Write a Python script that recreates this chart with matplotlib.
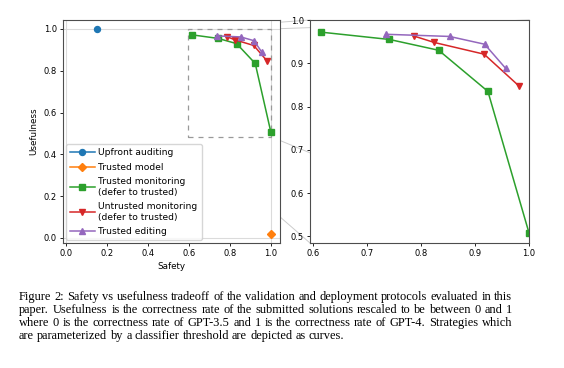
import matplotlib
matplotlib.use("Agg")
import matplotlib.pyplot as plt
from matplotlib.patches import Rectangle, ConnectionPatch
from matplotlib.font_manager import FontProperties, findfont, get_font

# data
upfront_safety = [0.15]
upfront_use = [1.0]

trusted_model_safety = [1.0]
trusted_model_use = [0.02]

tm_safety = [0.615, 0.742, 0.833, 0.924, 1.0]
tm_use = [0.972, 0.955, 0.930, 0.835, 0.508]

um_safety = [0.787, 0.825, 0.917, 0.981]
um_use = [0.963, 0.948, 0.921, 0.848]

te_safety = [0.735, 0.853, 0.918, 0.957]
te_use = [0.967, 0.962, 0.944, 0.888]

labels = ["Upfront auditing", "Trusted model",
          "Trusted monitoring\n(defer to trusted)",
          "Untrusted monitoring\n(defer to trusted)",
          "Trusted editing"]

caption = [
    "Figure 2: Safety vs usefulness tradeoff of the validation and deployment protocols evaluated in this",
    "paper. Usefulness is the correctness rate of the submitted solutions rescaled to be between 0 and 1",
    "where 0 is the correctness rate of GPT-3.5 and 1 is the correctness rate of GPT-4. Strategies which",
    "are parameterized by a classifier threshold are depicted as curves.",
]

W, H = 564, 368
fig = plt.figure(figsize=(W / 100, H / 100), dpi=100)

def px_axes(x0, y0, x1, y1):
    return fig.add_axes([x0 / W, 1 - y1 / H, (x1 - x0) / W, (y1 - y0) / H])

ax = px_axes(63, 20, 280, 243)
axr = px_axes(310, 20, 529, 243)

tick_fs = 6
mk = dict(markersize=4.3, lw=1.1)

def draw(a):
    a.plot(upfront_safety, upfront_use, 'o-', color='#1f77b4', label=labels[0], **mk)
    a.plot(trusted_model_safety, trusted_model_use, 'D-', color='#ff7f0e', label=labels[1],
           markersize=3.7, lw=1.1)
    a.plot(tm_safety, tm_use, 's-', color='#2ca02c', label=labels[2], **mk)
    a.plot(um_safety, um_use, 'v-', color='#d62728', label=labels[3], **mk)
    a.plot(te_safety, te_use, '^-', color='#9467bd', label=labels[4], **mk)

for v in (0, 1):
    ax.axhline(v, color='0.86', lw=0.8, zorder=0)
    ax.axvline(v, color='0.86', lw=0.8, zorder=0)

draw(ax)
draw(axr)

ax.set_xlim(-0.015, 1.045)
ax.set_ylim(-0.024, 1.043)
ax.set_xticks([0, 0.2, 0.4, 0.6, 0.8, 1.0])
ax.set_yticks([0, 0.2, 0.4, 0.6, 0.8, 1.0])
ax.set_xlabel("Safety", fontsize=6.3, labelpad=3)
ax.set_ylabel("Usefulness", fontsize=6.3, labelpad=4)

axr.set_xlim(0.595, 1.0)
axr.set_ylim(0.4846, 1.0)
axr.set_xticks([0.6, 0.7, 0.8, 0.9, 1.0])
axr.set_yticks([0.5, 0.6, 0.7, 0.8, 0.9, 1.0])

for a in (ax, axr):
    a.tick_params(labelsize=tick_fs, length=2.5, width=0.6, pad=2)
    for s in a.spines.values():
        s.set_color('0.3')
        s.set_linewidth(0.8)

ax.legend(loc='lower left', fontsize=6.6, handlelength=2.7, handletextpad=0.4,
          borderpad=0.45, labelspacing=0.6, borderaxespad=0.3, framealpha=0.8)

# zoom indicator
x0, x1 = axr.get_xlim()
y0, y1 = axr.get_ylim()
ax.add_patch(Rectangle((x0, y0), x1 - x0, y1 - y0, fill=False, ls=(0, (4, 4)),
                       ec='0.6', lw=0.9, zorder=1))
for (xa, ya), (xb, yb) in [((x0, y1), (0, 1)), ((x1, y1), (1, 1)),
                           ((x0, y0), (0, 0)), ((x1, y0), (1, 0))]:
    con = ConnectionPatch(xyA=(xa, ya), coordsA=ax.transData,
                          xyB=(xb, yb), coordsB=axr.transAxes,
                          color='0.8', lw=0.7, zorder=0)
    fig.add_artist(con)

# caption, one text per word, justified like the paper
renderer = fig.canvas.get_renderer()
serif = 'Liberation Serif'
ft = get_font(findfont(FontProperties(family=serif)), hinting_factor=1)

def adv(s, fs):
    ft.set_size(fs, 100)
    return sum(ft.load_char(ord(c)).linearHoriAdvance for c in s) / 65536

def text_w(s, fs):
    t = fig.text(0, 0, s, fontsize=fs, family=serif)
    w = t.get_window_extent(renderer).width
    t.remove()
    return w

left_px, right_px = 19, 512
cap_fs = 10 * (right_px - left_px) / text_w(caption[0], 10)

base0, step = 300.0, 12.9
for i, line in enumerate(caption):
    y = 1 - (base0 + i * step) / H
    words = line.split(" ")
    drawn = text_w(line, cap_fs)
    r = drawn / adv(line, cap_fs)
    last = i == len(caption) - 1
    extra = 0 if last else (right_px - left_px - drawn) / (len(words) - 1)
    pos = 0.0
    for k, w in enumerate(words):
        fig.text((left_px + pos * r + k * extra) / W, y, w, fontsize=cap_fs,
                 family=serif, va='baseline')
        pos += adv(w + " ", cap_fs)

fig.savefig("out.png", dpi=100)
